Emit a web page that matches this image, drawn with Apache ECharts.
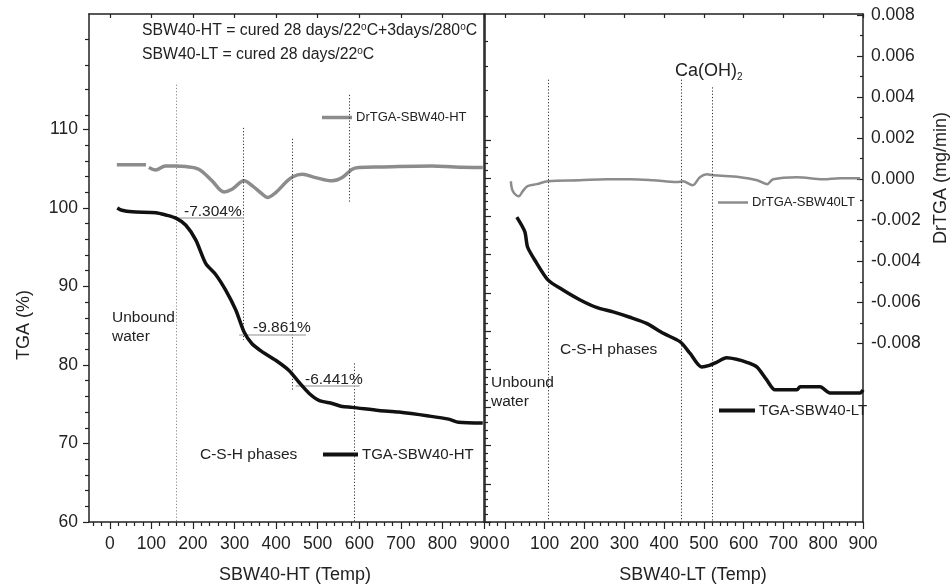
<!DOCTYPE html>
<html><head><meta charset="utf-8">
<script src="https://cdn.jsdelivr.net/npm/echarts@6/dist/echarts.min.js"></script>
<style>html,body{margin:0;padding:0;background:#fff}#c{width:952px;height:587px}</style>
</head><body><div id="c"></div>
<script>
// ---------- data ----------
const tempHT = [18, 29, 54, 111, 135, 159, 183, 207, 231, 255, 279, 303, 323, 342, 366, 399, 431, 455, 479, 503, 535, 559, 583, 647, 695, 767, 815, 839, 897];
const tgaHT  = [100.0, 99.7, 99.5, 99.4, 99.1, 98.7, 97.8, 95.9, 92.9, 91.5, 89.5, 87.0, 84.2, 82.7, 81.7, 80.6, 79.3, 77.8, 76.4, 75.5, 75.1, 74.7, 74.6, 74.2, 74.0, 73.5, 73.1, 72.7, 72.6];

const tempDrHT = [17, 87, 91, 94, 110, 134, 158, 182, 214, 246, 275, 294, 323, 343, 367, 379, 399, 423, 439, 463, 495, 535, 559, 583, 599, 655, 775, 830, 897];
const drHT     = [0.0007, 0.0007, null, 0.00057, 0.00045, 0.00065, 0.00065, 0.00062, 0.00049, -0.00008, -0.00062, -0.00049, -0.00008, -0.00032, -0.00073, -0.00089, -0.00065, -0.00016, 0.00011, 0.00024, 0.00008, -0.00008, 0.00008, 0.00049, 0.00057, 0.0006, 0.00065, 0.0006, 0.00057];

const tempLT = [30, 50, 57, 75, 108, 145, 188, 230, 272, 314, 356, 398, 440, 465, 494, 514, 532, 557, 582, 608, 633, 658, 679, 734, 742, 792, 817, 893, 900];
const tgaLT  = [99.9, 98.0, 96.0, 94.3, 91.7, 90.4, 89.1, 88.1, 87.5, 86.8, 86.0, 84.7, 83.6, 82.1, 80.3, 80.5, 80.9, 81.5, 81.3, 80.9, 80.3, 78.6, 77.3, 77.3, 77.7, 77.7, 76.9, 76.9, 77.3];

const tempDrLT = [15, 20, 35, 45, 57, 80, 108, 188, 256, 314, 372, 432, 447, 472, 490, 508, 523, 591, 634, 659, 674, 734, 800, 842, 893];
const drLT     = [-0.0001, -0.00058, -0.00083, -0.00058, -0.00034, -0.00024, -0.0001, -0.00005, 0, 0, -0.00005, -0.00014, -0.0001, -0.00029, 0.0001, 0.00024, 0.00019, 0.0001, -0.00005, -0.00024, 0, 0.0001, 0, 0.00005, 0.00005];

// tick labels / tick values
const xMajor = [0, 100, 200, 300, 400, 500, 600, 700, 800, 900];
const xMinor = [-40, -20, 20, 40, 60, 80, 120, 140, 160, 180, 220, 240, 260, 280, 320, 340, 360, 380, 420, 440, 460, 480, 520, 540, 560, 580, 620, 640, 660, 680, 720, 740, 760, 780, 820, 840, 860, 880];
const tgaMajor = [60, 70, 80, 90, 100, 110];
const tgaMinor = [62, 64, 66, 68, 72, 74, 76, 78, 82, 84, 86, 88, 92, 94, 96, 98, 102, 104, 106, 108, 111.8, 115.1, 118.2, 121.5];
const ltMajor = [60, 65, 70, 75, 80, 85, 90, 95, 100, 105, 110];
const ltMinor = [61, 62, 63, 64, 66, 67, 68, 69, 71, 72, 73, 74, 76, 77, 78, 79, 81, 82, 83, 84, 86, 87, 88, 89, 91, 92, 93, 94, 96, 97, 98, 99, 101, 102, 103, 104, 106, 107, 108, 109, 113.1, 116.5, 119.6, 122.9];
const drMajor = [-0.008, -0.006, -0.004, -0.002, 0, 0.002, 0.004, 0.006, 0.008];
const drMinor = [-0.007, -0.005, -0.003, -0.001, 0.001, 0.003, 0.005, 0.007];

// reference lines (data coordinates)
const dotHT_t = [159, 322, 440, 577, 589];
const dotHT_top = [115.7, 110.2, 108.8, 114.4, 80.2];
const dotHT_bot = [60, 83.2, 76.8, 100.8, 60];
const dotLT_t = [108, 442, 520];
const dotLT_top = [117.9, 117.9, 116.9];
const dotLT_bot = [60, 60, 60];
const pctLabels = ['-7.304%', '-9.861%', '-6.441%'];
const pctT1 = [161, 311, 447];
const pctT2 = [323, 472, 601];
const pctY = [98.7, 83.9, 77.3];

// ---------- chart ----------
const FONT = '"Liberation Sans", Arial, Helvetica, sans-serif';
const AX = '#222';
const zip = (a, b) => a.map((v, i) => [v, b[i] === null ? '-' : b[i]]);

const chart = echarts.init(document.getElementById('c'), null, {renderer: 'canvas'});

const noLine = {show: false, onZero: false};
function xAx(grid, pos, opts) {
  return Object.assign({
    type: 'value', gridIndex: grid, position: pos, min: -50, max: 900,
    axisLine: noLine, axisLabel: {show: false}, axisTick: {show: false}, splitLine: {show: false}
  }, opts);
}
function yAx(grid, pos, min, max, opts) {
  return Object.assign({
    type: 'value', gridIndex: grid, position: pos, min: min, max: max,
    axisLine: noLine, axisLabel: {show: false}, axisTick: {show: false}, splitLine: {show: false}
  }, opts);
}
const line = {show: true, onZero: false, lineStyle: {color: AX, width: 1.5}};
const tickStyle = {color: AX, width: 1.2};
const labelStyle = {fontSize: 17.5, color: '#222', fontFamily: FONT};

const xAxis = [
  xAx(0, 'bottom', {axisLine: line, axisTick: {show: true, customValues: xMajor, length: 7, lineStyle: tickStyle},
    axisLabel: Object.assign({show: true, customValues: xMajor, margin: 13}, labelStyle)}),
  xAx(0, 'bottom', {axisTick: {show: true, customValues: xMinor, length: 4, lineStyle: tickStyle}}),
  xAx(0, 'top', {axisLine: line, axisTick: {show: true, inside: true, customValues: xMajor, length: 4, lineStyle: tickStyle}}),
  xAx(1, 'bottom', {axisLine: line, axisTick: {show: true, customValues: xMajor, length: 7, lineStyle: tickStyle},
    axisLabel: Object.assign({show: true, customValues: xMajor, margin: 13}, labelStyle)}),
  xAx(1, 'bottom', {axisTick: {show: true, customValues: xMinor, length: 4, lineStyle: tickStyle}}),
  xAx(1, 'top', {axisLine: line, axisTick: {show: true, inside: true, customValues: xMajor, length: 4, lineStyle: tickStyle}})
];
const DRMIN = -0.0167, DRMAX = 0.00805;
const yAxis = [
  // 0: TGA HT
  yAx(0, 'left', 60, 124.7, {axisLine: line, axisTick: {show: true, customValues: tgaMajor, length: 6, lineStyle: tickStyle},
    axisLabel: Object.assign({show: true, customValues: tgaMajor, margin: 11}, labelStyle)}),
  // 1: minor
  yAx(0, 'left', 60, 124.7, {axisTick: {show: true, customValues: tgaMinor, length: 4, lineStyle: tickStyle}}),
  // 2: DrTGA hidden scale for HT, frame right
  yAx(0, 'right', DRMIN, DRMAX, {axisLine: line}),
  // 3: TGA LT
  yAx(1, 'left', 60, 126.5, {axisLine: line, axisTick: {show: true, inside: true, customValues: ltMajor, length: 6, lineStyle: tickStyle}}),
  // 4: minor
  yAx(1, 'left', 60, 126.5, {axisTick: {show: true, inside: true, customValues: ltMinor, length: 3, lineStyle: tickStyle}}),
  // 5: DrTGA right
  yAx(1, 'right', DRMIN, DRMAX, {axisLine: line, axisTick: {show: true, inside: true, customValues: drMajor, length: 6, lineStyle: tickStyle},
    axisLabel: Object.assign({show: true, customValues: drMajor, margin: 8, formatter: v => v.toFixed(3)}, labelStyle)}),
  // 6: minor
  yAx(1, 'right', DRMIN, DRMAX, {axisTick: {show: true, inside: true, customValues: drMinor, length: 3, lineStyle: tickStyle}})
];

function dotPairs(ts, tops, bots, colorFn) {
  return ts.map((t, i) => [
    {coord: [t, tops[i]], lineStyle: {color: colorFn(i), type: [1.2, 2], width: 1}},
    {coord: [t, bots[i]]}
  ]);
}
const pctPairs = pctT1.map((t, i) => [
  {coord: [t, pctY[i]], lineStyle: {color: '#b5b5b5', type: 'solid', width: 1.5}},
  {coord: [pctT2[i], pctY[i]]}
]);

const series = [
  {name: 'TGA-SBW40-HT', type: 'line', xAxisIndex: 0, yAxisIndex: 0, data: zip(tempHT, tgaHT),
    symbol: 'none', smooth: 0.25, lineStyle: {color: '#111', width: 3.5}, itemStyle: {color: '#111'}, z: 5,
    markLine: {silent: true, symbol: ['none', 'none'], label: {show: false}, animation: false,
      data: dotPairs(dotHT_t, dotHT_top, dotHT_bot, i => (i === 0 ? '#8a8a8a' : '#333')).concat(pctPairs)}},
  {name: 'DrTGA-SBW40-HT', type: 'line', xAxisIndex: 0, yAxisIndex: 2, data: zip(tempDrHT, drHT),
    symbol: 'none', smooth: 0.35, connectNulls: false, lineStyle: {color: '#8c8c8c', width: 3.5}, itemStyle: {color: '#8c8c8c'}},
  {name: 'TGA-SBW40-LT', type: 'line', xAxisIndex: 3, yAxisIndex: 3, data: zip(tempLT, tgaLT),
    symbol: 'none', smooth: 0.25, lineStyle: {color: '#111', width: 3.5}, itemStyle: {color: '#111'}, z: 5,
    markLine: {silent: true, symbol: ['none', 'none'], label: {show: false}, animation: false,
      data: dotPairs(dotLT_t, dotLT_top, dotLT_bot, () => '#333')}},
  {name: 'DrTGA-SBW40LT', type: 'line', xAxisIndex: 3, yAxisIndex: 5, data: zip(tempDrLT, drLT),
    symbol: 'none', smooth: 0.35, lineStyle: {color: '#8c8c8c', width: 2.5}, itemStyle: {color: '#8c8c8c'}}
];

function leg(name, left, top, w, h, fs) {
  return {data: [name], left: left, top: top, itemWidth: w, itemHeight: h, icon: 'rect', padding: 0,
    itemGap: 0, selectedMode: false, textStyle: {fontSize: fs, color: '#222', fontFamily: FONT, padding: [0, 0, 0, -1]}};
}
const legend = [
  leg('DrTGA-SBW40-HT', 322, 111, 30, 3.5, 13),
  leg('TGA-SBW40-HT', 323, 447, 35, 4, 15),
  leg('DrTGA-SBW40LT', 718, 196, 30, 2.5, 13),
  leg('TGA-SBW40-LT', 719, 403, 36, 4, 15)
];

function txt(x, y, text, fs, extra) {
  return {type: 'text', x: x, y: y, silent: true, z: 50, style: Object.assign({
    text: text, fontSize: fs, fontFamily: FONT, fill: '#222',
    textAlign: 'left', textVerticalAlign: 'middle', align: 'left', verticalAlign: 'middle'}, extra || {})};
}
const supRich = {s: {fontSize: 10, fontFamily: FONT, verticalAlign: 'top', padding: [0, 0, 0, 0]}};
const graphic = [
  txt(142, 31, 'SBW40-HT = cured 28 days/22{s|o}C+3days/280{s|o}C', 15.8, {rich: supRich, lineHeight: 18}),
  txt(142, 55, 'SBW40-LT = cured 28 days/22{s|o}C', 15.8, {rich: supRich, lineHeight: 18}),
  txt(675, 71, 'Ca(OH){b|2}', 18, {rich: {b: {fontSize: 10, fontFamily: FONT, verticalAlign: 'bottom'}}, lineHeight: 22}),
  txt(112, 327, 'Unbound\nwater', 15.5, {lineHeight: 19}),
  txt(200, 455, 'C-S-H phases', 15.5),
  txt(491, 392, 'Unbound\nwater', 15.5, {lineHeight: 19}),
  txt(560, 350, 'C-S-H phases', 15.5),
  txt(184, 212, pctLabels[0], 15.5),
  txt(253, 328, pctLabels[1], 15.5),
  txt(305, 380, pctLabels[2], 15.5),
  txt(295, 575, 'SBW40-HT (Temp)', 18, {textAlign: 'center', align: 'center'}),
  txt(693, 575, 'SBW40-LT (Temp)', 18, {textAlign: 'center', align: 'center'}),
  Object.assign(txt(24, 325, 'TGA (%)', 18, {textAlign: 'center', align: 'center'}), {rotation: Math.PI / 2}),
  Object.assign(txt(941, 178, 'DrTGA (mg/min)', 18, {textAlign: 'center', align: 'center'}), {rotation: Math.PI / 2})
];

chart.setOption({
  animation: false,
  backgroundColor: '#fff',
  textStyle: {fontFamily: FONT},
  grid: [{left: 89, top: 14, width: 395, height: 508}, {left: 485, top: 14, width: 378, height: 508}],
  xAxis: xAxis, yAxis: yAxis, series: series, legend: legend, graphic: graphic
});
</script></body></html>
